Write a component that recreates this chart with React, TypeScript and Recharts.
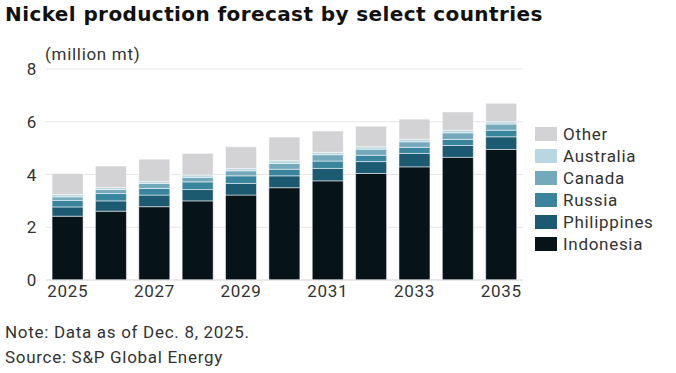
import React from "react";
import { BarChart, Bar, XAxis, YAxis, CartesianGrid } from "recharts";

const years = ["2025", "2026", "2027", "2028", "2029", "2030", "2031", "2032", "2033", "2034", "2035"];
const indonesia = [2.42, 2.61, 2.78, 3.0, 3.22, 3.5, 3.76, 4.04, 4.29, 4.65, 4.95];
const philippines = [0.35, 0.39, 0.44, 0.43, 0.44, 0.45, 0.47, 0.45, 0.51, 0.45, 0.48];
const russia = [0.25, 0.28, 0.25, 0.29, 0.29, 0.25, 0.28, 0.24, 0.23, 0.23, 0.25];
const canada = [0.13, 0.15, 0.19, 0.17, 0.19, 0.22, 0.24, 0.23, 0.21, 0.25, 0.23];
const australia = [0.09, 0.08, 0.08, 0.09, 0.09, 0.1, 0.09, 0.09, 0.1, 0.1, 0.09];
const other = [0.8, 0.81, 0.84, 0.82, 0.82, 0.9, 0.81, 0.78, 0.76, 0.69, 0.7];
const yTicks = [0, 2, 4, 6, 8];

const series = [
  { key: "Indonesia", values: indonesia, color: "#061419" },
  { key: "Philippines", values: philippines, color: "#1c5a72" },
  { key: "Russia", values: russia, color: "#3a859e" },
  { key: "Canada", values: canada, color: "#74a9bc" },
  { key: "Australia", values: australia, color: "#b9d7e0" },
  { key: "Other", values: other, color: "#d3d3d5" },
];

const data = years.map((year, i) => {
  const row: Record<string, any> = { year };
  series.forEach((s) => {
    row[s.key] = s.values[i];
  });
  return row;
});

const FONT = "Roboto, 'Liberation Sans', sans-serif";
const TEXT = "#333";
const LS = "0.7px";

export default function App() {
  return (
    <div style={{ position: "absolute", left: 0, top: 0, width: 676, height: 373, background: "#fff", fontFamily: FONT, letterSpacing: LS }}>
      <div
        style={{
          position: "absolute",
          left: 5,
          top: 2,
          fontSize: 20,
          fontWeight: 700,
          color: "#111",
          whiteSpace: "nowrap",
          letterSpacing: "0.4px",
          fontFamily: "'DejaVu Sans', sans-serif",
        }}
      >
        Nickel production forecast by select countries
      </div>
      <div style={{ position: "absolute", left: 45, top: 44, fontSize: 17, color: TEXT }}>(million mt)</div>
      <BarChart
        width={676}
        height={310}
        data={data}
        margin={{ top: 69, right: 153, left: 0, bottom: 0 }}
        barCategoryGap="14%"
      >
        <CartesianGrid vertical={false} stroke="#e6e6e6" />
        <XAxis
          dataKey="year"
          interval={1}
          height={30}
          tickLine={false}
          tickSize={0}
          tickMargin={5}
          axisLine={{ stroke: "#e0e0e0" }}
          tick={{ fontSize: 17, fill: TEXT, fontFamily: FONT, letterSpacing: LS }}
        />
        <YAxis
          width={46}
          domain={[0, 8]}
          ticks={yTicks}
          axisLine={false}
          tickLine={false}
          tickSize={0}
          tickMargin={9}
          tick={{ fontSize: 17, fill: TEXT, fontFamily: FONT }}
        />
        {series.map((s) => (
          <Bar
            key={s.key}
            dataKey={s.key}
            stackId="a"
            fill={s.color}
            stroke="#ffffff"
            strokeWidth={0.5}
            isAnimationActive={false}
          />
        ))}
      </BarChart>
      <div style={{ position: "absolute", left: 535, top: 123 }}>
        {[...series].reverse().map((s) => (
          <div key={s.key} style={{ display: "flex", alignItems: "center", height: 22 }}>
            <div style={{ width: 22, height: 14, background: s.color, marginRight: 6 }} />
            <span style={{ fontSize: 17, color: TEXT }}>{s.key}</span>
          </div>
        ))}
      </div>
      <div style={{ position: "absolute", left: 5, top: 320, fontSize: 17, color: TEXT, lineHeight: "25px" }}>
        <div>Note: Data as of Dec. 8, 2025.</div>
        <div>Source: S&amp;P Global Energy</div>
      </div>
    </div>
  );
}
